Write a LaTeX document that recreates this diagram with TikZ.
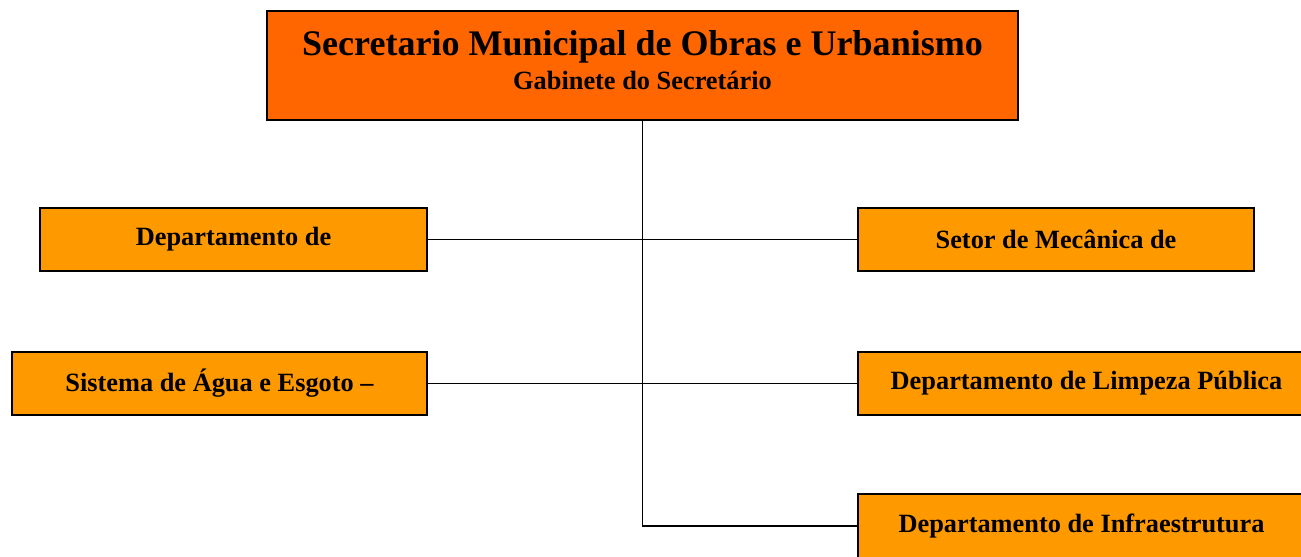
\documentclass[tikz,border=0pt]{standalone}
\usepackage{fontspec}
\setmainfont{Liberation Serif}
\usepackage{tikz}
\definecolor{chieffill}{HTML}{FF6600}
\definecolor{unitfill}{HTML}{FF9900}
\tikzstyle{unit}=[rectangle,draw,line width=1.1pt,fill=unitfill,text=black,minimum height=1.26cm,font=\fontsize{15}{18}\selectfont\bfseries]
\tikzstyle{chief}=[rectangle,draw,line width=1.1pt,fill=chieffill,minimum width=15.02cm,minimum height=2.18cm]
\tikzstyle{link}=[line width=1.1pt]

\begin{document}
\begin{tikzpicture}[x=0.02cm,y=-0.02cm]
  \useasboundingbox (0,0) rectangle (1301,557);
  \clip (0,0) rectangle (1301,557);

  \node[chief] (top) at (642.5,65.5) {};
  \node[anchor=base,font=\fontsize{20.5}{24}\selectfont\bfseries] (title) at (642.5,56) {Secretario Municipal de Obras e Urbanismo};
  \node[anchor=base,font=\fontsize{15}{18}\selectfont\bfseries] (gab) at (642.5,90) {Gabinete do Secretário};

  \node[unit,minimum width=7.74cm] (dep) at (233.5,239.5) {Departamento de};
  \node[unit,minimum width=8.3cm] (agua) at (219.5,383.5) {Sistema de Água e Esgoto --};
  \node[unit,minimum width=7.92cm] (mec) at (1056,239.5) {Setor de Mecânica de};
  \node[unit,minimum width=9.14cm] (limp) at (1086.5,383.5) {Departamento de Limpeza Pública};
  \node[unit,minimum width=8.94cm,minimum height=1.28cm] (infra) at (1081.5,526) {Departamento de Infraestrutura};

  \draw[link] (top.south)|-(infra.west);
  \draw[link] (dep.east)--(mec.west);
  \draw[link] (agua.east)--(limp.west);

\end{tikzpicture}
\end{document}
